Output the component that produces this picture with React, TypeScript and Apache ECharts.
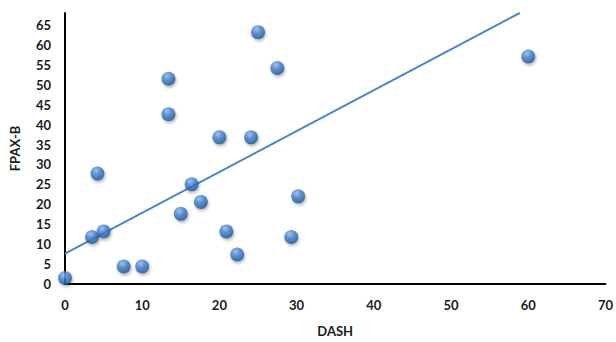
import React, { useEffect, useRef } from "react";
import * as echarts from "echarts";

const dashValues = [0, 3.5, 4.2, 5.0, 7.6, 10.0, 13.4, 13.4, 15.0, 16.4, 17.6, 20.0, 20.9, 22.3, 24.1, 25.0, 27.5, 29.3, 30.2, 60.0];
const fpaxValues = [1.5, 11.8, 27.7, 13.2, 4.4, 4.4, 51.5, 42.6, 17.6, 25.0, 20.6, 36.8, 13.2, 7.4, 36.8, 63.2, 54.2, 11.8, 22.0, 57.1];
const trendX = [0, 58.9];
const trendY = [7.6, 68];

export default function App() {
  const ref = useRef<HTMLDivElement>(null);
  useEffect(() => {
    document.body.style.margin = "0";
    if (!ref.current) return;
    const chart = echarts.init(ref.current, null, { renderer: "svg" });
    const labelStyle = { fontFamily: "Lato", fontWeight: "bold" as const, fontSize: 13, color: "#1a1a1a" };
    chart.setOption({
      animation: false,
      backgroundColor: "#ffffff",
      grid: { left: 62, right: 9, top: 13, bottom: 52 },
      xAxis: {
        type: "value",
        min: 0,
        max: 70,
        interval: 10,
        name: "DASH",
        nameLocation: "middle",
        nameGap: 40,
        nameTextStyle: labelStyle,
        axisLine: { lineStyle: { color: "#000", width: 2 } },
        axisTick: { show: false },
        splitLine: { show: false },
        axisLabel: { ...labelStyle, margin: 14 },
      },
      yAxis: {
        type: "value",
        min: 0,
        max: 68,
        interval: 5,
        name: "FPAX-B",
        nameLocation: "middle",
        nameGap: 44,
        nameTextStyle: labelStyle,
        axisLine: { show: true, lineStyle: { color: "#000", width: 2 } },
        axisTick: { show: false },
        splitLine: { show: false },
        axisLabel: { ...labelStyle, margin: 14, showMaxLabel: false },
      },
      series: [
        {
          type: "line",
          data: trendX.map((x, i) => [x, trendY[i]]),
          symbol: "none",
          lineStyle: { color: "#4a86c8", width: 2 },
          z: 1,
        },
        {
          type: "scatter",
          data: dashValues.map((x, i) => [x, fpaxValues[i]]),
          symbolSize: 14,
          z: 2,
          itemStyle: {
            color: new echarts.graphic.RadialGradient(0.4, 0.3, 0.7, [
              { offset: 0, color: "#8dbbee" },
              { offset: 0.45, color: "#3f7fcc" },
              { offset: 1, color: "#1f5596" },
            ]),
            shadowBlur: 3,
            shadowOffsetX: 1,
            shadowOffsetY: 2,
            shadowColor: "rgba(0,0,0,0.35)",
          },
        },
      ],
    });
    return () => chart.dispose();
  }, []);
  return <div ref={ref} style={{ width: 616, height: 342, margin: 0 }} />;
}
